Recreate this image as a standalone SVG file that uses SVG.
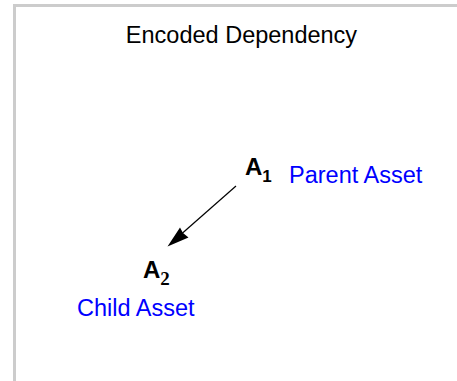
<svg xmlns="http://www.w3.org/2000/svg" width="457" height="381" viewBox="0 0 457 381">
<style>
.title{font-family:"Liberation Sans",Arial,sans-serif;font-size:23.5px;fill:#000}
.node{font-family:"Liberation Sans",Arial,sans-serif;font-size:24px;font-weight:bold;fill:#000}
.sub{font-size:17px}
.subs{font-size:19px;font-family:"Liberation Serif","Times New Roman",serif}
.lbl{font-family:"Liberation Sans",Arial,sans-serif;font-size:23.5px;fill:#0000ff}
.edge{stroke:#000;stroke-width:1.2;fill:none}
</style>
<rect x="14.5" y="5.5" width="460" height="400" fill="#fff" stroke="#cccccc" stroke-width="3"/>
<text class="title" x="241.5" y="42.5" text-anchor="middle">Encoded Dependency</text>
<g id="A1">
<text class="node" x="245" y="175">A<tspan class="sub" dy="6.5">1</tspan></text>
<text class="lbl" x="289" y="183">Parent Asset</text>
</g>
<g id="A2">
<text class="node" x="143" y="278">A<tspan class="subs" dy="7">2</tspan></text>
<text class="lbl" x="77" y="316">Child Asset</text>
</g>
<g id="connectors">
<line class="edge" x1="236" y1="186" x2="178" y2="237"/>
<polygon points="167.5,246.5 180,227.5 183,233 188.5,237.5" fill="#000"/>
</g>
</svg>
